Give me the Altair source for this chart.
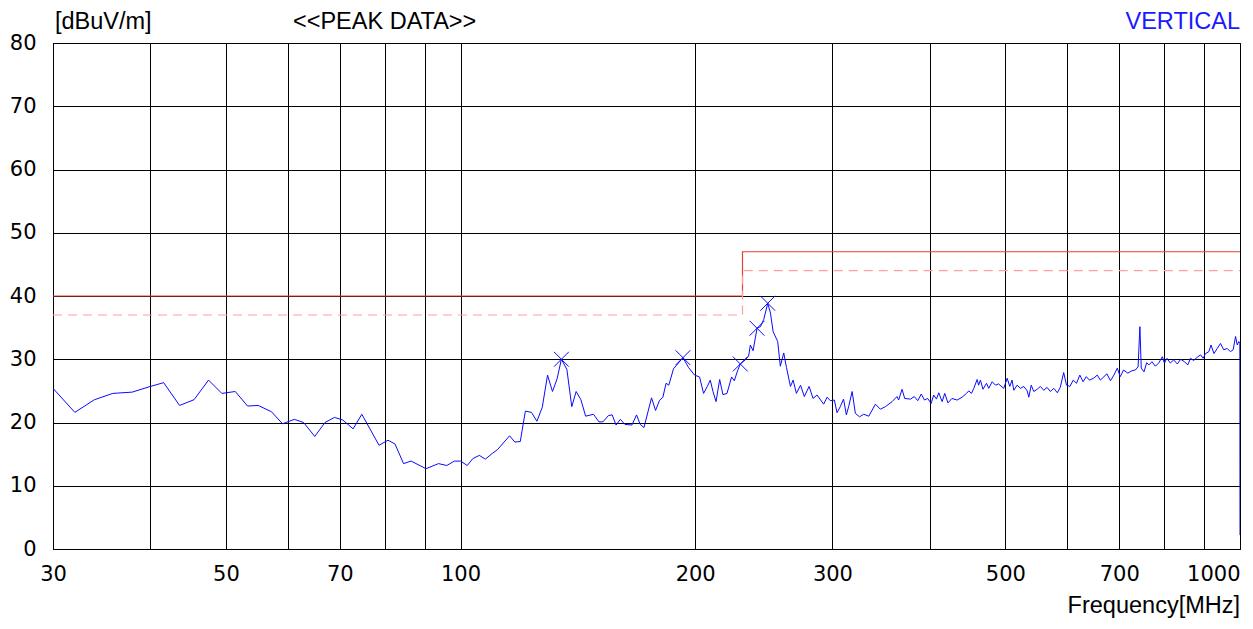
import altair as alt
import pandas as pd

# ---- measured trace (frequency in MHz, level in dBuV/m) ----
freq = [30.0, 32.0, 33.9, 35.8, 37.9, 40.0, 41.6, 43.6, 45.5, 47.5, 49.4, 51.4, 53.3, 55.0,
        57.2, 59.1, 61.2, 62.9, 65.0, 67.0, 68.9, 70.6, 72.8, 74.7, 78.6, 80.7, 82.4, 84.5,
        86.4, 90.3, 93.7, 96.0, 98.2, 100.0, 102.0, 103.7, 105.7, 107.6, 109.8, 111.5, 115.6,
        117.4, 119.3, 121.1, 123.3, 125.3, 127.3, 129.3, 131.2, 133.0, 134.7, 136.9, 138.9,
        140.7, 142.7, 144.7, 148.1, 150.5, 152.3, 154.8, 156.5, 158.3, 160.3, 162.5, 165.9,
        168.2, 170.0, 171.9, 175.8, 177.9, 180.0, 181.8, 183.5, 185.0, 187.6, 192.9, 196.1,
        199.6, 202.6, 205.0, 207.3, 209.1, 210.8, 212.7, 215.0, 217.1, 219.7, 222.7, 224.5,
        226.7, 228.5, 231.9, 234.2, 235.4, 237.3, 240.1, 242.5, 244.9, 247.8, 249.8, 251.8,
        255.2, 257.2, 259.8, 261.9, 265.0, 267.1, 269.7, 273.0, 276.1, 280.0, 283.3, 286.6,
        292.3, 295.3, 298.1, 301.7, 304.1, 307, 310, 312.6, 314.7, 318, 321, 325, 329, 334,
        340.6, 345.6, 350.8, 357.8, 363, 364.8, 368.5, 371.4, 377.7, 382, 386, 390, 393.7,
        397.5, 401.5, 404.6, 407.9, 410.7, 414.8, 418, 422, 427, 433.6, 440, 445.7, 448.8,
        452.4, 455.5, 460, 462, 464.5, 468, 472.9, 476, 480.9, 485.6, 490, 497.6, 502.7,
        506.5, 510, 512.6, 517.7, 522.8, 528, 533.3, 535.8, 539.7, 543.8, 549.3, 554.5, 560,
        565.6, 571, 577, 583, 588, 594, 599, 605, 611, 617, 623, 629, 635, 641, 649, 656, 662,
        669, 675, 682, 689, 696, 702, 709, 718, 727, 734, 740, 744, 747, 753, 759, 764, 771,
        779, 787, 795, 800, 806, 814, 822, 831, 839, 849, 857, 864, 872, 881, 890, 897, 903,
        912, 918, 926, 935, 944, 953, 963, 972, 980, 987, 992, 996.5, 999.5, 1000]
level = [25.4, 21.6, 23.6, 24.6, 24.8, 25.7, 26.3, 22.7, 23.6, 26.7, 24.6, 24.9, 22.6, 22.7,
         21.7, 19.8, 20.5, 20.0, 17.8, 20.0, 20.8, 20.4, 19.0, 21.3, 16.4, 17.2, 16.6, 13.5,
         13.9, 12.7, 13.5, 13.2, 13.9, 13.9, 13.2, 14.3, 14.8, 14.2, 15.1, 15.7, 17.9,
         16.9, 17.0, 21.8, 21.6, 20.2, 22.4, 27.5, 24.9, 26.9, 30.0, 28.4, 22.5,
         24.9, 23.6, 21.0, 21.3, 20.1, 20.1, 21.1, 21.2, 19.6, 20.5, 19.7, 19.6,
         21.2, 19.7, 19.2, 23.9, 21.9, 23.5, 24.0, 26.2, 25.9, 28.5, 30.25, 28.7,
         27.5, 27.2, 24.6, 25.7, 26.7, 24.9, 23.3, 26.8, 24.4, 24.6, 27.2, 26.6,
         28.2, 29.25, 29.9, 30.5, 32.25, 31.35, 34.9, 35.15, 36.3, 38.85, 37.3, 34.35,
         32.8, 28.9, 31.0, 28.7, 25.7, 26.7, 24.6, 25.9, 24.1, 25.7, 23.8, 24.35,
         22.9, 24.0, 23.45, 23.55, 21.55, 22.5, 23.7, 21.2, 22.5, 24.9, 21.45, 20.9, 21.3, 21.0,
         22.9, 22.1, 22.5, 23.3, 24.1, 23.55, 25.25, 23.8, 23.7, 24.1, 23.45, 24.5, 23.55,
         23.8, 23.0, 24.35, 23.7, 24.7, 23.3, 24.6, 23.1, 23.8, 23.55, 24.0, 24.6, 25.0,
         24.6, 25.4, 26.8, 25.9, 26.7, 25.25, 26.2, 25.4, 26.45, 25.9, 26.1, 25.4, 27.0,
         25.7, 26.7, 25.1, 25.9, 25.4, 25.7, 25.0, 24.0, 25.9, 24.9, 25.25, 25.7, 25.1,
         25.55, 24.9, 25.4, 24.7, 25.55, 27.9, 25.9, 25.7, 26.7, 26.2, 27.5, 26.45, 27.25, 26.7, 27.0, 27.5, 26.7,
         27.25, 27.7, 26.6, 27.5, 28.6, 27.25, 28.3, 27.8, 28.2, 28.3, 28.8, 35.15, 28.6, 28.0, 29.45, 29.1, 29.6,
         28.9, 29.45, 30.4, 29.4, 30.15, 29.4, 29.9, 29.25, 30.0, 29.6, 29.1, 30.15, 29.8, 30.3, 30.7, 30.15, 30.9,
         31.2, 32.25, 30.9, 31.7, 32.5, 31.5, 31.7, 31.2, 31.5, 33.6, 32.25, 32.8, 32.5, 2.2]

# ---- peak markers ----
peak_freq = [134.7, 192.9, 228.5, 240.1, 247.8]
peak_level = [30.0, 30.25, 29.25, 34.9, 38.85]

# ---- limit lines ----
limit_freq = [30, 230, 230, 1000]
limit_level = [40, 40, 47, 47]
margin_level = [37, 37, 44, 44]

# ---- axes ----
x_ticks = [30, 40, 50, 60, 70, 80, 90, 100, 200, 300, 400, 500, 600, 700, 800, 900, 1000]
x_labels = [30, 50, 70, 100, 200, 300, 500, 700, 1000]
y_ticks = [0, 10, 20, 30, 40, 50, 60, 70, 80]

trace = pd.DataFrame({"f": freq, "v": level, "i": list(range(len(freq)))})
peaks = pd.DataFrame({"f": peak_freq, "v": peak_level})
limits = pd.DataFrame({"f": limit_freq, "lim": limit_level, "mar": margin_level,
                       "i": list(range(len(limit_freq)))})

xs = alt.Scale(type="log", domain=[30, 1000], nice=False)
ys = alt.Scale(domain=[0, 80], nice=False)

label_font = "DejaVu Sans"
x_axis = alt.Axis(values=x_ticks, grid=True, gridColor="#000000", gridOpacity=1, gridWidth=1,
                  tickSize=0, domainColor="#000000", domainWidth=1, title=None,
                  labelExpr="indexof(%s, datum.value) >= 0 ? toString(datum.value) : ''" % str(x_labels),
                  labelFont=label_font, labelFontSize=21, labelColor="#000000",
                  labelPadding=14, labelOverlap=False, labelBound=False, labelFlush=False,
                  labelAlign={"expr": "datum.value == 1000 ? 'right' : 'center'"})
y_axis = alt.Axis(values=y_ticks, grid=True, gridColor="#000000", gridOpacity=1, gridWidth=1,
                  tickSize=0, domainColor="#000000", domainWidth=1, title=None,
                  labelFont=label_font, labelFontSize=21, labelColor="#000000",
                  labelPadding=17, labelOverlap=False)

base_trace = alt.Chart(trace).mark_line(color="#0a0aff", strokeWidth=1, clip=True).encode(
    x=alt.X("f:Q", scale=xs, axis=x_axis),
    y=alt.Y("v:Q", scale=ys, axis=y_axis),
    order="i:Q",
)

lim_line = alt.Chart(limits).mark_line(color="#e8403c", strokeWidth=1.2).encode(
    x=alt.X("f:Q", scale=xs), y=alt.Y("lim:Q", scale=ys), order="i:Q")
mar_line = alt.Chart(limits).mark_line(color="#ffa0a0", strokeWidth=1.2, strokeDash=[9, 6]).encode(
    x=alt.X("f:Q", scale=xs), y=alt.Y("mar:Q", scale=ys), order="i:Q")

marks = alt.Chart(peaks).mark_point(shape="M -1 -1 L 1 1 M -1 1 L 1 -1", filled=False,
                                    color="#0a0aff", size=220, strokeWidth=1, opacity=1).encode(
    x=alt.X("f:Q", scale=xs), y=alt.Y("v:Q", scale=ys))

title_font = "Liberation Sans"
fs = 23.5
t_unit = alt.Chart(pd.DataFrame({"t": ["[dBuV/m]"]})).mark_text(
    font=title_font, fontSize=fs, align="left", baseline="alphabetic", color="#000000").encode(
    x=alt.value(2), y=alt.value(-14), text="t:N")
t_peak = alt.Chart(pd.DataFrame({"t": ["<<PEAK DATA>>"]})).mark_text(
    font=title_font, fontSize=fs, align="left", baseline="alphabetic", color="#000000").encode(
    x=alt.value(240), y=alt.value(-14), text="t:N")
t_pol = alt.Chart(pd.DataFrame({"t": ["VERTICAL"]})).mark_text(
    font=title_font, fontSize=fs, align="right", baseline="alphabetic", color="#1a1aff").encode(
    x=alt.value(1187), y=alt.value(-14), text="t:N")
t_freq = alt.Chart(pd.DataFrame({"t": ["Frequency[MHz]"]})).mark_text(
    font=title_font, fontSize=fs, align="right", baseline="alphabetic", color="#000000").encode(
    x=alt.value(1187), y=alt.value(570), text="t:N")

chart = alt.layer(base_trace, lim_line, mar_line, marks, t_unit, t_peak, t_pol, t_freq).properties(
    width=1187, height=506,
    autosize=alt.AutoSizeParams(type="none"),
    padding={"left": 45, "top": 35, "right": 5, "bottom": 72},
    background="white",
).configure_view(stroke="#000000", strokeWidth=1)

chart.save("out.html", embed_options={"renderer": "svg", "actions": False})
